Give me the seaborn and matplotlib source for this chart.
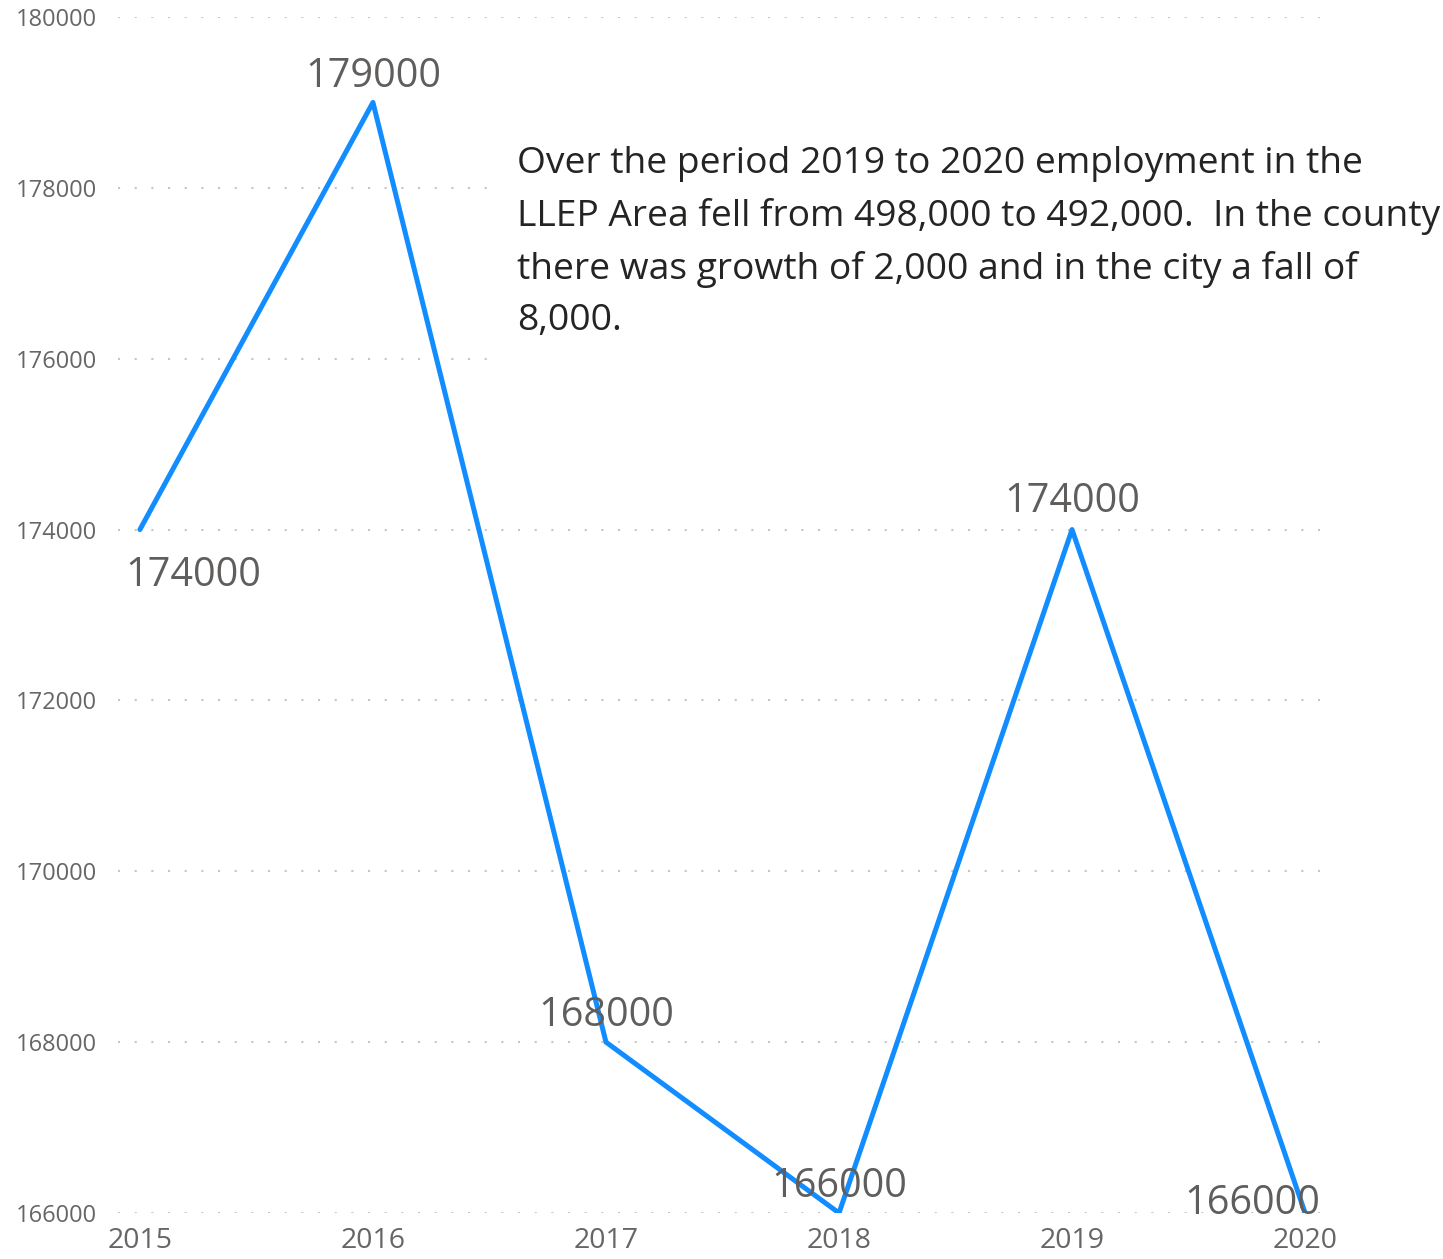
import seaborn as sns
import pandas as pd
import matplotlib.pyplot as plt
from matplotlib.patches import Rectangle

years = [2015, 2016, 2017, 2018, 2019, 2020]
employment = [174000, 179000, 168000, 166000, 174000, 166000]
y_ticks = [166000, 168000, 170000, 172000, 174000, 176000, 178000, 180000]
# label offsets in pixels (dx, dy) relative to each point
label_offsets = [(53, -46), (0, 26), (0, 26), (0, 26), (0, 28), (-53, 9)]
note = ("Over the period 2019 to 2020 employment in the\n"
        "LLEP Area fell from 498,000 to 492,000.  In the county\n"
        "there was growth of 2,000 and in the city a fall of\n"
        "8,000.")

df = pd.DataFrame({'year': years, 'employment': employment})

sns.set_style('white')
plt.rcParams['font.family'] = ['Open Sans', 'DejaVu Sans']

W, H = 1443, 1259
fig = plt.figure(figsize=(W / 100, H / 100), dpi=100)
ax = fig.add_axes([118 / W, 46 / H, 1202 / W, 1196 / H])

sns.lineplot(data=df, x='year', y='employment', ax=ax, color='#118DFF',
             linewidth=3.6, zorder=3)

ax.set_xlim(2014.906, 2020.064)
ax.set_ylim(166000, 180000)
ax.set_xticks(years)
ax.set_yticks(y_ticks)
ax.set_xticklabels([str(y) for y in years])
ax.set_yticklabels([str(v) for v in y_ticks])
ax.tick_params(axis='y', labelsize=17, colors='#666666', length=0, pad=15)
ax.tick_params(axis='x', labelsize=20.5, colors='#666666', length=0, pad=10)
ax.set_xlabel('')
ax.set_ylabel('')
for s in ax.spines.values():
    s.set_visible(False)

ax.grid(axis='y', color='#C8C6C4', linestyle=(0, (1, 7)), linewidth=1.5)
ax.grid(axis='x', visible=False)

for x, y, (dx, dy) in zip(years, employment, label_offsets):
    ax.annotate(str(y), (x, y), xytext=(dx, dy), textcoords='offset pixels',
                ha='center', va='center', fontsize=28.5, color='#605E5C',
                zorder=4, annotation_clip=False)

# white text box covering the gridlines
fig.add_artist(Rectangle((500 / W, 1 - 375 / H), 943 / W, 255 / H,
                         transform=fig.transFigure, facecolor='white',
                         edgecolor='none', zorder=1))
fig.text(517 / W, 1 - 146 / H, note, ha='left', va='top', fontsize=26.8,
         color='#252423', linespacing=1.57, zorder=2)

fig.savefig('out.png', dpi=100)
